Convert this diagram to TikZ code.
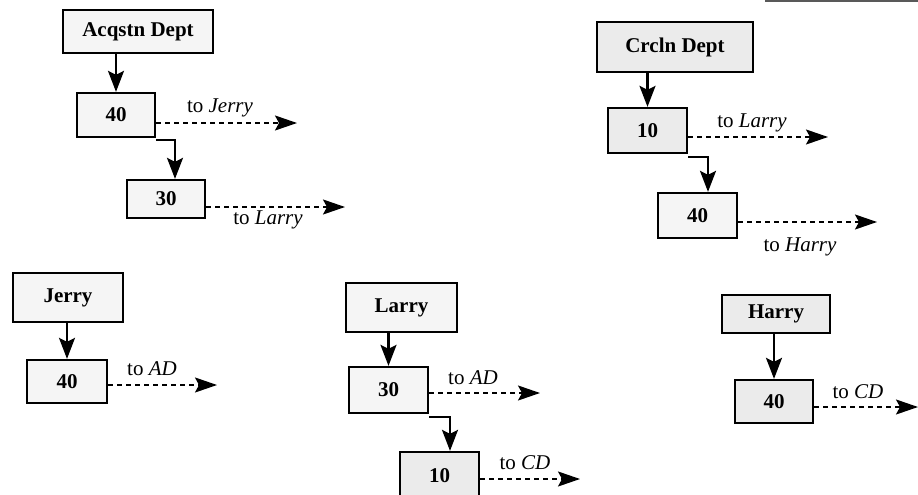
\documentclass[tikz,border=0pt]{standalone}
\usepackage{fontspec}
\setmainfont{Liberation Serif}
\usetikzlibrary{arrows.meta}
\begin{document}
\begin{tikzpicture}[x=1pt,y=-1pt,
  box/.style={draw=black,line width=2.3pt,fill=gray!8,inner sep=0pt,font=\fontsize{21}{24}\selectfont\bfseries},
  dbox/.style={box,fill=gray!16},
  solid arrow/.style={line width=2.2pt,-{Stealth[length=21pt,width=16pt,inset=4pt]}},
  dash arrow/.style={line width=1.8pt,dash pattern=on 5pt off 4pt,-{Stealth[length=22pt,width=15pt,inset=4pt]}},
  lbl/.style={inner sep=0pt,font=\fontsize{21}{24}\selectfont}]
\useasboundingbox (0,0) rectangle (918,495);
\clip (0,0) rectangle (918,495);
\draw[line width=2pt,gray!70!black] (765,1) -- (918,1);

% Acqstn Dept group
\node[box,minimum width=150pt,minimum height=43pt] (AD) at (138,31.5) {Acqstn Dept};
\node[box,minimum width=78pt,minimum height=44pt] (AD40) at (116,115) {40};
\node[box,minimum width=78pt,minimum height=38pt] (AD30) at (166,199) {30};
\draw[solid arrow] (AD40.north |- AD.south) -- (AD40.north);
\draw[solid arrow] ([yshift=-2pt]AD40.south east) -| ([xshift=9pt]AD30.north);
\coordinate (adj) at (297,123);
\coordinate (adl) at (345,207);
\draw[dash arrow] (AD40.east |- adj) -- (adj);
\draw[dash arrow] (AD30.east |- adl) -- (adl);
\node[lbl] (t1) at (220,108) {to \textit{Jerry}};
\node[lbl] (t2) at (268,220) {to \textit{Larry}};

% Crcln Dept group
\node[dbox,minimum width=156pt,minimum height=50pt] (CD) at (675,47) {Crcln Dept};
\node[dbox,minimum width=79pt,minimum height=45pt] (CD10) at (647.5,130.5) {10};
\node[box,minimum width=79pt,minimum height=45pt] (CD40) at (697.5,215.5) {40};
\draw[solid arrow] (CD10.north |- CD.south) -- (CD10.north);
\draw[solid arrow] ([yshift=-3pt]CD10.south east) -| ([xshift=10.5pt]CD40.north);
\coordinate (cdl) at (828,137);
\coordinate (cdh) at (877,222);
\draw[dash arrow] (CD10.east |- cdl) -- (cdl);
\draw[dash arrow] (CD40.east |- cdh) -- (cdh);
\node[lbl] (t3) at (752,123) {to \textit{Larry}};
\node[lbl] (t4) at (800,247) {to \textit{Harry}};

% Jerry
\node[box,minimum width=110pt,minimum height=49pt] (J) at (68,297.5) {Jerry};
\node[box,minimum width=80pt,minimum height=43pt] (J40) at (67,381.5) {40};
\draw[solid arrow] (J40.north |- J.south) -- (J40.north);
\coordinate (ja) at (217,385);
\draw[dash arrow] (J40.east |- ja) -- (ja);
\node[lbl] (t5) at (152,369) {to \textit{AD}};

% Larry
\node[box,minimum width=111pt,minimum height=49pt] (L) at (401.5,307.5) {Larry};
\node[box,minimum width=79pt,minimum height=46pt] (L30) at (388.5,390) {30};
\node[dbox,minimum width=79pt,minimum height=48pt] (L10) at (439.5,476) {10};
\draw[solid arrow] (L30.north |- L.south) -- (L30.north);
\draw[solid arrow] ([yshift=-3pt]L30.south east) -| ([xshift=10.5pt]L10.north);
\coordinate (la) at (540,393);
\coordinate (lc) at (580,479);
\draw[dash arrow] (L30.east |- la) -- (la);
\draw[dash arrow] (L10.east |- lc) -- (lc);
\node[lbl] (t6) at (473,378) {to \textit{AD}};
\node[lbl] (t7) at (525,463) {to \textit{CD}};

% Harry
\node[dbox,minimum width=108pt,minimum height=38pt] (H) at (776,314) {Harry};
\node[dbox,minimum width=78pt,minimum height=43pt] (H40) at (774,401.5) {40};
\draw[solid arrow] (H40.north |- H.south) -- (H40.north);
\coordinate (hc) at (918,407);
\draw[dash arrow] (H40.east |- hc) -- (hc);
\node[lbl] (t8) at (858,392) {to \textit{CD}};
\end{tikzpicture}
\end{document}
